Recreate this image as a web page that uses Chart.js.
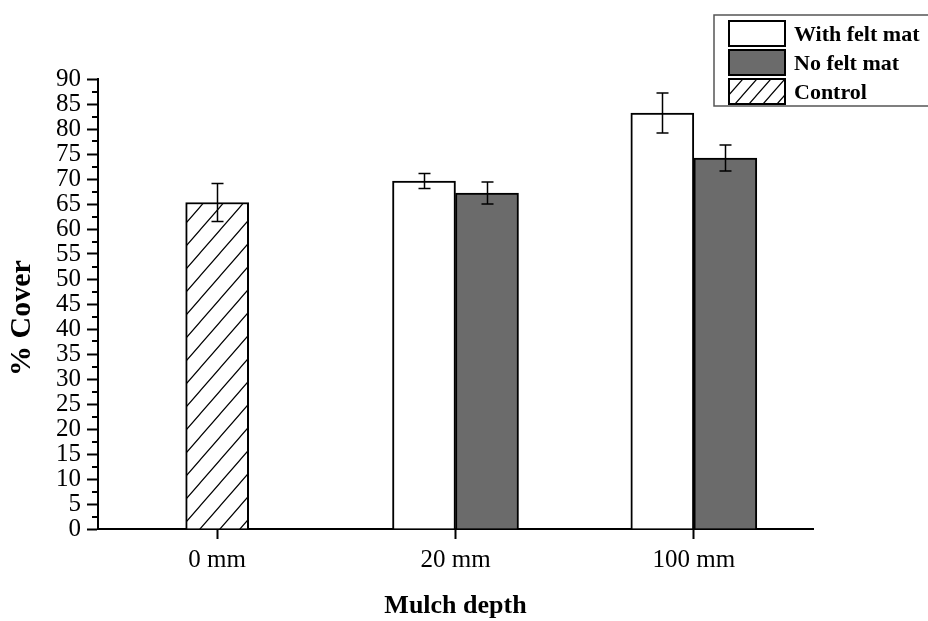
<!DOCTYPE html>
<html>
<head>
<meta charset="utf-8">
<script src="https://cdn.jsdelivr.net/npm/chart.js@4"></script>
<style>
  html, body { margin: 0; padding: 0; background: #fff; }
  #wrap { width: 928px; height: 621px; }
</style>
</head>
<body>
<div id="wrap"><canvas id="c" width="928" height="621"></canvas></div>
<script>
// Mulch depth categories and mean % cover per treatment, with error half-widths
const categories = ['0 mm', '20 mm', '100 mm'];
const withFelt    = [null, 69.6, 83.2];
const withFeltErr = [null, 1.5, 4.0];
const noFelt      = [null, 67.2, 74.2];
const noFeltErr   = [null, 2.2, 2.6];
const control     = [65.3, null, null];
const controlErr  = [3.8, null, null];
const seriesNames = ['With felt mat', 'No felt mat', 'Control'];
const yMin = 0, yMax = 90, yStep = 5;
const xTitle = 'Mulch depth';
const yTitle = '% Cover';

const SERIF = '"Liberation Serif", "Times New Roman", serif';
const GREY = '#6b6b6b';

// diagonal "/" hatch used for the control bar
function hatch(w, h, width) {
  const c = document.createElement('canvas');
  c.width = w; c.height = h;
  const g = c.getContext('2d');
  g.fillStyle = '#fff';
  g.fillRect(0, 0, w, h);
  g.strokeStyle = '#000';
  g.lineWidth = width;
  g.beginPath();
  g.moveTo(-w * 0.1, h * 1.1); g.lineTo(w * 1.1, -h * 0.1);
  g.moveTo(-w * 0.1, h * 0.1); g.lineTo(w * 0.1, -h * 0.1);
  g.moveTo(w * 0.9, h * 1.1); g.lineTo(w * 1.1, h * 0.9);
  g.stroke();
  return g.createPattern(c, 'repeat');
}
const ctx0 = document.getElementById('c').getContext('2d');
const barHatch = hatch(20, 23, 1.2);
const keyHatch = hatch(14, 16, 1.2);

// vertical error bars on each drawn bar
const errorBars = {
  id: 'errorBars',
  afterDatasetsDraw(chart) {
    const ctx = chart.ctx, ys = chart.scales.y;
    ctx.save();
    ctx.strokeStyle = '#000';
    ctx.lineWidth = 1.5;
    chart.data.datasets.forEach((ds, i) => {
      const meta = chart.getDatasetMeta(i);
      meta.data.forEach((el, j) => {
        const v = ds.data[j], e = ds.errors[j];
        if (v == null || e == null) return;
        const x = Math.round(el.x) + 0.5;
        const yt = ys.getPixelForValue(v + e);
        const yb = ys.getPixelForValue(v - e);
        const cap = 6;
        ctx.beginPath();
        ctx.moveTo(x, yt); ctx.lineTo(x, yb);
        ctx.moveTo(x - cap, yt); ctx.lineTo(x + cap, yt);
        ctx.moveTo(x - cap, yb); ctx.lineTo(x + cap, yb);
        ctx.stroke();
      });
    });
    ctx.restore();
  }
};

// short minor ticks halfway between the labelled y ticks
const minorTicks = {
  id: 'minorTicks',
  afterDraw(chart) {
    const ctx = chart.ctx, ys = chart.scales.y, left = chart.chartArea.left;
    ctx.save();
    ctx.strokeStyle = '#000';
    ctx.lineWidth = 2;
    ctx.beginPath();
    for (let v = yMin + yStep / 2; v < yMax; v += yStep) {
      const y = Math.round(ys.getPixelForValue(v));
      ctx.moveTo(left - 6, y); ctx.lineTo(left, y);
    }
    ctx.stroke();
    ctx.restore();
  }
};

// axis titles
const axisTitles = {
  id: 'axisTitles',
  afterDraw(chart) {
    const ctx = chart.ctx, a = chart.chartArea;
    ctx.save();
    ctx.fillStyle = '#000';
    ctx.textAlign = 'center';
    ctx.textBaseline = 'middle';
    ctx.font = 'bold 26px ' + SERIF;
    ctx.fillText(xTitle, (a.left + a.right) / 2, 606);
    ctx.font = 'bold 30px ' + SERIF;
    ctx.translate(22, 318);
    ctx.rotate(-Math.PI / 2);
    ctx.fillText(yTitle, 0, 0);
    ctx.restore();
  }
};

// boxed key in the top-right corner
const keyBox = {
  id: 'keyBox',
  afterDraw(chart) {
    const ctx = chart.ctx;
    const x0 = 714, y0 = 15, y1 = 106;
    ctx.save();
    ctx.strokeStyle = '#555';
    ctx.lineWidth = 1.5;
    ctx.beginPath();
    ctx.moveTo(940, y0); ctx.lineTo(x0, y0); ctx.lineTo(x0, y1); ctx.lineTo(940, y1);
    ctx.stroke();
    ctx.font = 'bold 22px ' + SERIF;
    ctx.textAlign = 'left';
    ctx.textBaseline = 'middle';
    const fills = ['#fff', GREY, keyHatch];
    chart.data.datasets.forEach((ds, i) => {
      const top = 21 + i * 29;
      ctx.fillStyle = fills[i];
      ctx.fillRect(729, top, 56, 25);
      ctx.strokeStyle = '#000';
      ctx.lineWidth = 2;
      ctx.strokeRect(729, top, 56, 25);
      ctx.fillStyle = '#000';
      ctx.fillText(ds.label, 794, top + 14);
    });
    ctx.restore();
  }
};

new Chart(ctx0, {
  type: 'bar',
  data: {
    labels: categories,
    datasets: [
      { label: seriesNames[0], data: withFelt, errors: withFeltErr, backgroundColor: '#fff' },
      { label: seriesNames[1], data: noFelt, errors: noFeltErr, backgroundColor: GREY },
      { label: seriesNames[2], data: control, errors: controlErr, backgroundColor: barHatch }
    ]
  },
  options: {
    responsive: false,
    animation: false,
    devicePixelRatio: 1,
    layout: { padding: { left: 0, right: 115, top: 79, bottom: 0 } },
    datasets: {
      bar: { skipNull: true, barThickness: 63, borderColor: '#000', borderWidth: 2 }
    },
    plugins: { legend: { display: false }, tooltip: { enabled: false } },
    scales: {
      x: {
        type: 'category',
        offset: true,
        afterFit(s) { s.height = 92; },
        grid: { offset: false, drawOnChartArea: false, drawTicks: true, tickLength: 10, tickColor: '#000', tickWidth: 2 },
        border: { display: true, color: '#000', width: 2 },
        ticks: { color: '#000', font: { family: SERIF, size: 25 }, padding: 6, maxRotation: 0 }
      },
      y: {
        min: yMin, max: yMax,
        afterFit(s) { s.width = 98; },
        grid: { drawOnChartArea: false, drawTicks: true, tickLength: 11, tickColor: '#000', tickWidth: 2 },
        border: { display: true, color: '#000', width: 2 },
        ticks: { stepSize: yStep, color: '#000', font: { family: SERIF, size: 25 }, padding: 6, autoSkip: false }
      }
    }
  },
  plugins: [errorBars, minorTicks, axisTitles, keyBox]
});
</script>
</body>
</html>
